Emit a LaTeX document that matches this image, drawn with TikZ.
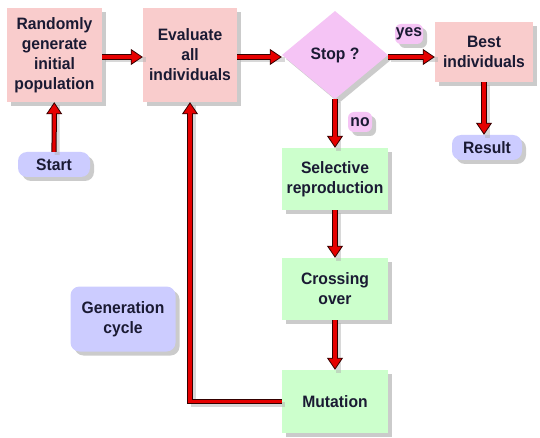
\documentclass[tikz,border=0pt]{standalone}
\usepackage{fontspec}
\setmainfont{Liberation Sans}[FakeStretch=0.95]
\usetikzlibrary{shapes.geometric,arrows.meta,shadows}
\definecolor{pinkbox}{HTML}{F9CCCC}
\definecolor{greenbox}{HTML}{CCFFCC}
\definecolor{lavbox}{HTML}{CCCCFF}
\definecolor{diabox}{HTML}{F5C4F5}
\definecolor{txt}{HTML}{1A1A33}
\definecolor{arrred}{HTML}{E60000}
\definecolor{arrdark}{HTML}{330000}
\begin{document}
\begin{tikzpicture}[x=1pt,y=-1pt,
  shad/.style={drop shadow={shadow xshift=4pt,shadow yshift=-4pt,fill=black!45,opacity=0.45}},
  base/.style={draw=none,text=txt,align=center,inner sep=0pt,
    font=\bfseries\fontsize{16.5}{20}\selectfont,shad},
  pbox/.style={base,fill=pinkbox},
  gbox/.style={base,fill=greenbox,minimum width=106pt,minimum height=62pt},
  lbox/.style={base,fill=lavbox,rounded corners=9pt},
  tag/.style={base,fill=diabox,rounded corners=6pt},
  arr/.style={line width=5.2pt,draw=arrdark,
    -{Triangle[length=12pt,width=16pt,fill=arrred,line width=0.8pt]},
    preaction={draw=black!30,opacity=0.5,line width=5pt,-,transform canvas={shift={(3pt,-3pt)}}},
    postaction={draw=arrred,line width=3.2pt,-,shorten >=11pt}}
]
\fill[white] (0,0) rectangle (540,438);
\useasboundingbox (0,0) rectangle (540,438);

\node[pbox,minimum width=95pt,minimum height=94pt] (rand) at (54.5,55) {Randomly\\generate\\initial\\population};
\node[pbox,minimum width=94pt,minimum height=94pt] (eval) at (190,55) {Evaluate\\all\\individuals};
\node[base,fill=diabox,shape=diamond,minimum width=106pt,minimum height=88pt] (stop) at (335,55) {Stop ?};
\node[tag,minimum width=28pt,minimum height=20pt] (yes) at (409,34) {yes};
\node[pbox,minimum width=98pt,minimum height=60pt] (best) at (484,52) {Best\\individuals};
\node[lbox,minimum width=70pt,minimum height=25pt] (result) at (487,147.5) {Result};
\node[tag,minimum width=24pt,minimum height=20pt] (no) at (360,122) {no};
\node[gbox] (sel) at (335,179) {Selective\\reproduction};
\node[gbox] (cross) at (335,289) {Crossing\\over};
\node[gbox,minimum height=63pt] (mut) at (335,401.5) {Mutation};
\node[lbox,minimum width=105pt,minimum height=65pt] (gen) at (123,319) {Generation\\cycle};
\node[lbox,minimum width=72pt,minimum height=25pt] (start) at (54,164.5) {Start};

\draw[arr] (start) -- (rand);
\draw[arr] (rand.east |- 0,57) coordinate (r1) -- (r1 -| eval.west);
\draw[arr] (eval.east |- 0,57) coordinate (e1) -- (e1 -| stop.west);
\draw[arr] (stop.east |- 0,57) coordinate (s1) -- (s1 -| best.west);
\draw[arr] (best) -- (best.south |- result.north);
\draw[arr] (stop) -- (sel);
\draw[arr] (sel) -- (cross);
\draw[arr] (cross) -- (mut);
\draw[arr] (mut.west) -| (eval.south);
\end{tikzpicture}
\end{document}
